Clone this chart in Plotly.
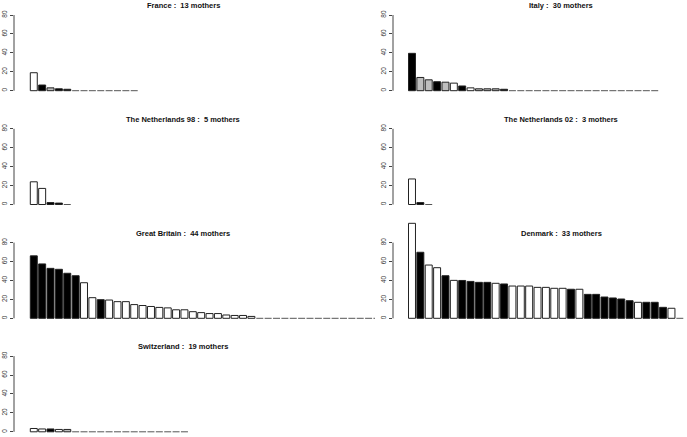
import plotly.graph_objects as go

# ---------------- data ----------------
titles = ["France", "Italy", "The Netherlands 98", "The Netherlands 02",
          "Great Britain", "Denmark", "Switzerland"]
mothers = [13, 30, 5, 3, 44, 33, 19]

france_vals = [19, 6, 3, 2, 1.5, 0, 0, 0, 0, 0, 0, 0, 0]
france_cols = ["w", "b", "g", "b", "b", "w", "w", "w", "w", "w", "w", "w", "w"]

italy_vals = [39.5, 14, 11.5, 9.5, 9, 8, 5, 3, 2, 2, 2, 1.5,
              0, 0, 0, 0, 0, 0, 0, 0, 0, 0, 0, 0, 0, 0, 0, 0, 0, 0]
italy_cols = ["b", "g", "g", "b", "g", "w", "b", "w", "g", "g", "g", "b",
              "w", "w", "w", "w", "w", "w", "w", "w", "w", "w", "w", "w", "w", "w", "w", "w", "w", "w"]

nl98_vals = [24, 17, 2, 1.5, 0]
nl98_cols = ["w", "w", "b", "b", "w"]

nl02_vals = [27, 2, 0]
nl02_cols = ["w", "b", "w"]

gb_vals = [66, 57.5, 52.8, 51.8, 47.6, 45, 37.6, 21.8, 19.7, 19.3, 17.6, 17.6,
           14.5, 13.5, 12.5, 11.5, 11, 9, 9, 7, 6, 5, 5, 3.5, 3, 3, 2,
           0, 0, 0, 0, 0, 0, 0, 0, 0, 0, 0, 0, 0, 0, 0, 0, 0]
gb_cols = ["b", "b", "b", "b", "b", "b", "w", "w", "b", "w", "w", "w",
           "w", "w", "w", "w", "w", "w", "w", "w", "w", "w", "w", "w", "w", "w", "w",
           "w", "w", "w", "w", "w", "w", "w", "w", "w", "w", "w", "w", "w", "w", "w", "w", "w"]

dk_vals = [100.4, 69.8, 56.3, 53.5, 45, 40.1, 40, 39, 38, 38, 37, 36.3,
           34.1, 34.1, 34.1, 32.7, 32.7, 31.7, 31.7, 30.7, 30.7, 25.3, 25.3,
           22.5, 21.5, 20.4, 18.6, 16.9, 16.9, 16.9, 11.6, 10.6, 0]
dk_cols = ["w", "b", "w", "w", "b", "w", "b", "b", "b", "b", "w", "b",
           "w", "w", "w", "w", "w", "w", "w", "b", "w", "b", "b",
           "b", "b", "b", "b", "w", "b", "b", "b", "w", "w"]

ch_vals = [3.5, 3, 3, 2.5, 2.5, 0, 0, 0, 0, 0, 0, 0, 0, 0, 0, 0, 0, 0, 0]
ch_cols = ["w", "w", "b", "w", "g", "w", "w", "w", "w", "w", "w", "w", "w", "w", "w", "w", "w", "w", "w"]

y_ticks = [0, 20, 40, 60, 80]

panel_vals = [france_vals, italy_vals, nl98_vals, nl02_vals, gb_vals, dk_vals, ch_vals]
panel_cols = [france_cols, italy_cols, nl98_cols, nl02_cols, gb_cols, dk_cols, ch_cols]
panel_pos = [(0, 0), (0, 1), (1, 0), (1, 1), (2, 0), (2, 1), (3, 0)]

# ---------------- layout geometry (pixels) ----------------
W, H = 687, 437
PITCH = 8.37          # px per bar slot
BAR_W = 1 / 1.2       # bar width in slot units
S = 0.946             # px per y unit
zero_px = [90.7, 204.5, 318.3, 431.8]
col_axis_px = [14, 393]
col_first_bar_px = [30.3, 408.5]
col_right_px = [375, 687]
title_center_px = [183, 561]

colmap = {"w": "#ffffff", "b": "#000000", "g": "#bebebe"}
FONT = "Liberation Sans, Arial, sans-serif"

fig = go.Figure()
layout = dict(width=W, height=H, margin=dict(l=0, r=0, t=0, b=0),
              paper_bgcolor="white", plot_bgcolor="white", showlegend=False,
              font=dict(family=FONT, color="#333"))
shapes, annotations = [], []

for k, (vals, cols, (r, c)) in enumerate(zip(panel_vals, panel_cols, panel_pos), start=1):
    xs = list(range(len(vals)))
    nz_x = [x for x, v in zip(xs, vals) if v > 0]
    nz_v = [v for v in vals if v > 0]
    nz_c = [colmap[cc] for cc, v in zip(cols, vals) if v > 0]
    suffix = "" if k == 1 else str(k)
    xa, ya = "x" + suffix, "y" + suffix
    fig.add_trace(go.Bar(x=nz_x, y=nz_v, width=BAR_W, xaxis=xa, yaxis=ya,
                         marker=dict(color=nz_c, line=dict(color="#222", width=1)),
                         hoverinfo="skip"))
    zx, zy = [], []
    for x, v in zip(xs, vals):
        if v == 0:
            zx += [x - BAR_W / 2, x + BAR_W / 2, None]
            zy += [0, 0, None]
    if zx:
        fig.add_trace(go.Scatter(x=zx, y=zy, mode="lines", xaxis=xa, yaxis=ya,
                                 line=dict(color="#555", width=1), hoverinfo="skip"))

    ax_px = col_axis_px[c]
    left = -BAR_W / 2 - (col_first_bar_px[c] - ax_px) / PITCH
    right = left + (col_right_px[c] - ax_px) / PITCH
    z = zero_px[r]
    top_px = max(0, z - 103)
    bot_px = z + 4
    layout["xaxis" + suffix] = dict(domain=[ax_px / W, col_right_px[c] / W], range=[left, right],
                                    visible=False, anchor=ya, fixedrange=True)
    layout["yaxis" + suffix] = dict(domain=[1 - bot_px / H, 1 - top_px / H],
                                    range=[-(bot_px - z) / S, (z - top_px) / S],
                                    anchor=xa, showgrid=False, zeroline=False, showline=False,
                                    tickvals=y_ticks, ticks="outside", ticklen=3, tickwidth=1,
                                    tickcolor="#444", tickangle=-90,
                                    tickfont=dict(size=6.5, color="#333", family=FONT),
                                    fixedrange=True)
    shapes.append(dict(type="line", xref=f"{xa} domain", yref=ya, x0=0, x1=0,
                       y0=y_ticks[0], y1=y_ticks[-1], line=dict(color="#444", width=1)))
    annotations.append(dict(xref="paper", yref="paper", x=title_center_px[c] / W,
                            y=1 - (z - 85) / H, xanchor="center", yanchor="middle",
                            showarrow=False,
                            text=f"<b>{titles[k-1]} :\u00a0 {mothers[k-1]} mothers</b>",
                            font=dict(size=7.5, color="#111", family=FONT)))

layout["shapes"] = shapes
layout["annotations"] = annotations
fig.update_layout(**layout)
fig.write_html("out.html", config={"displayModeBar": False},
               post_script="document.body.style.margin='0';document.body.style.overflow='hidden';")
